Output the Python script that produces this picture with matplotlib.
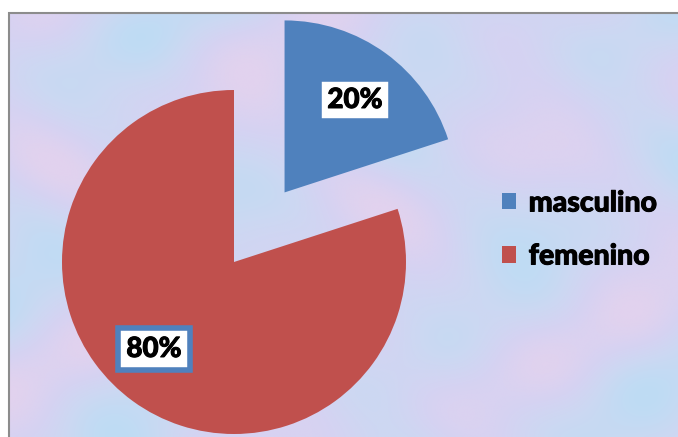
import numpy as np
import matplotlib.pyplot as plt
import matplotlib.patheffects as pe
from matplotlib.colors import LinearSegmentedColormap
from matplotlib.patches import Rectangle

labels = ['masculino', 'femenino']
values = [20, 80]
colors = ['#4F81BD', '#C0504D']

W, H = 678, 437
R = 172
fig = plt.figure(figsize=(W / 100, H / 100), dpi=100)
ax = fig.add_axes([0, 0, 1, 1])

# soft marbled backdrop inside the chart frame
xx, yy = np.meshgrid(np.arange(0, W, 2.0), np.arange(0, H, 2.0))
tex = (np.sin(xx / 41.0 + np.cos(yy / 57.0) * 2.1)
       + np.sin(yy / 33.0 - xx / 71.0) * 0.8
       + np.sin((xx + yy) / 23.0) * 0.35)
marble = LinearSegmentedColormap.from_list(
    'marble', ['#BEDCF4', '#CCD8F2', '#D6D2F2', '#E2D2EE'])
ax.imshow(tex, cmap=marble, extent=(9, W, 0, H - 13), origin='lower',
          aspect='auto', interpolation='bicubic', zorder=0)
ax.add_patch(Rectangle((8.5, -5), W, H - 13 + 5 + 0.5, fill=False,
                       edgecolor='#8C8C8C', linewidth=1.5, zorder=1))

heavy = [pe.withStroke(linewidth=0.7, foreground='black')]

# explode offset is in data units, so scale by the radius
wedges, texts, autotexts = ax.pie(
    values, colors=colors, explode=[0.5 * R, 0], startangle=90,
    counterclock=False, center=(234, 175), radius=R,
    autopct='%d%%', pctdistance=0.67, frame=True,
    wedgeprops=dict(linewidth=0, zorder=2),
    textprops=dict(fontfamily='Lato', fontweight='black', fontsize=20,
                   color='black'))
ax.set_xlim(0, W)
ax.set_ylim(0, H)
ax.axis('off')

autotexts[0].set_position((355, 337))
autotexts[1].set_position((154, 88))
for t in autotexts:
    t.set_zorder(4)
    t.set_path_effects(heavy)
    t.set_bbox(dict(boxstyle='square,pad=0.3', facecolor='white',
                    edgecolor='#4F81BD', linewidth=4))

leg = ax.legend(wedges, labels, loc='center left',
                bbox_to_anchor=(476 / W, 207 / H), frameon=False,
                prop=dict(family='Lato', weight='black', size=20.5),
                handlelength=0.5, handleheight=0.5, handletextpad=0.45,
                labelspacing=0.95)
for t in leg.get_texts():
    t.set_path_effects(heavy)

fig.savefig('out.png', dpi=100)
